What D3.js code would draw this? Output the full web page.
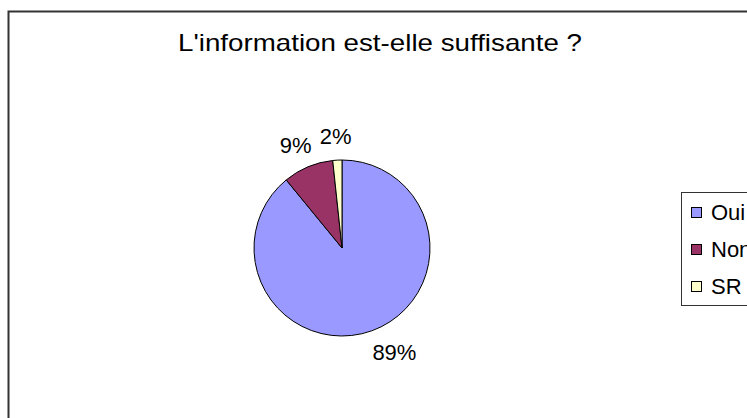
<!DOCTYPE html>
<html>
<head>
<meta charset="utf-8">
<script src="https://cdn.jsdelivr.net/npm/d3@7"></script>
<style>
  html, body { margin: 0; padding: 0; background: #fff; }
  svg { display: block; font-family: "Liberation Sans", Arial, sans-serif; }
</style>
</head>
<body>
<div id="chart"></div>
<script>
(() => {
  "use strict";

  const title = "L'information est-elle suffisante ?";
  const categories = ["Oui", "Non", "SR"];
  const counts = [106, 11, 2];
  const colors = ["#9999FF", "#993366", "#FFFFCC"];

  const width = 747, height = 418;
  const cx = 342, cy = 248, r = 88;

  const svg = d3.select("#chart").append("svg")
    .attr("width", width).attr("height", height);

  // chart frame (runs off the right and bottom edges)
  svg.append("rect")
    .attr("x", 8.5).attr("y", 11.5)
    .attr("width", 780).attr("height", 440)
    .attr("fill", "#fff").attr("stroke", "#333").attr("stroke-width", 2);

  svg.append("text")
    .attr("x", 380).attr("y", 51)
    .attr("text-anchor", "middle")
    .attr("font-size", 24)
    .attr("textLength", 404).attr("lengthAdjust", "spacingAndGlyphs")
    .attr("fill", "#000")
    .text(title);

  const data = categories.map((c, i) => ({ cat: c, value: counts[i], color: colors[i] }));
  const total = d3.sum(counts);
  const pct = d3.format(".0%");

  const pie = d3.pie().sort(null).value(d => d.value).startAngle(0).endAngle(2 * Math.PI);
  const arc = d3.arc().innerRadius(0).outerRadius(r);
  const arcs = pie(data);

  const g = svg.append("g").attr("transform", `translate(${cx},${cy})`);

  g.selectAll("path.slice")
    .data(arcs)
    .join("path")
    .attr("class", "slice")
    .attr("d", arc)
    .attr("fill", d => d.data.color)
    .attr("stroke", "#000")
    .attr("stroke-width", 1)
    .attr("stroke-linejoin", "round");

  // outside-end labels
  const labelFont = 22;
  g.selectAll("text.lbl")
    .data(arcs)
    .join("text")
    .attr("class", "lbl")
    .attr("font-size", labelFont)
    .attr("fill", "#000")
    .attr("text-anchor", "middle")
    .attr("dominant-baseline", "central")
    .text(d => pct(d.data.value / total))
    .each(function(d) {
      const a = (d.startAngle + d.endAngle) / 2;
      const dx = Math.sin(a), dy = -Math.cos(a);
      const bb = this.getBBox();
      const rr = r + 16;
      const x = dx * rr + dx * bb.width / 2 + (dy > 0 ? 10 : 0);
      const y = dy * rr + dy * 7.5;
      d3.select(this).attr("x", x).attr("y", y);
    });

  // legend
  const lx = 681, ly = 192, rowH = 37;
  svg.append("rect")
    .attr("x", lx + 0.5).attr("y", ly + 0.5)
    .attr("width", 100).attr("height", 113)
    .attr("fill", "#fff").attr("stroke", "#333").attr("stroke-width", 1);

  const items = svg.selectAll("g.item")
    .data(data)
    .join("g")
    .attr("class", "item")
    .attr("transform", (d, i) => `translate(${lx + 10},${ly + 21 + i * rowH})`);

  items.append("rect")
    .attr("x", 0.5).attr("y", -5.5)
    .attr("width", 10).attr("height", 10)
    .attr("fill", d => d.color)
    .attr("stroke", "#000").attr("stroke-width", 1);

  items.append("text")
    .attr("x", 20).attr("y", 7)
    .attr("font-size", labelFont)
    .attr("fill", "#000")
    .text(d => d.cat);
})();
</script>
</body>
</html>
